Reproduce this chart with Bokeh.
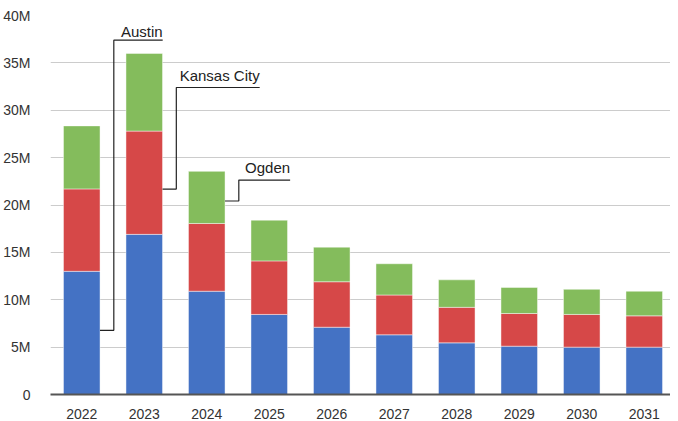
from bokeh.plotting import figure
from bokeh.models import ColumnDataSource, FixedTicker, Range1d
from bokeh.embed import file_html
from bokeh.resources import INLINE
from bokeh.core.properties import value

# ---- data (values in millions) ----
years = ["2022", "2023", "2024", "2025", "2026", "2027", "2028", "2029", "2030", "2031"]
austin = [13.0, 16.9, 10.9, 8.45, 7.1, 6.3, 5.45, 5.1, 5.0, 5.0]
kansas_city = [8.7, 10.9, 7.15, 5.65, 4.8, 4.2, 3.75, 3.45, 3.45, 3.3]
ogden = [6.65, 8.2, 5.5, 4.3, 3.65, 3.3, 2.9, 2.75, 2.65, 2.6]
series_names = ["Austin", "Kansas City", "Ogden"]
colors = ["#4472C4", "#D64848", "#84BC5C"]
y_ticks = [0, 5, 10, 15, 20, 25, 30, 35, 40]
y_tick_labels = ["0", "5M", "10M", "15M", "20M", "25M", "30M", "35M", "40M"]

# ---- callout annotations ----
callout_bar = [0, 1, 2]
callout_anchor = [6.77, 21.68, 20.42]
callout_level = [37.4, 32.4, 22.63]
callout_end = [1.295, 1.847, 1.334]
callout_text_y = [37.66, 33.05, 23.34]

FONT = "Liberation Sans"
FS = "14px"
BAR_W = 0.585

x_idx = list(range(len(years)))
src = ColumnDataSource(dict(x=x_idx, Austin=austin, **{"Kansas City": kansas_city}, Ogden=ogden))

p = figure(width=670, height=421, output_backend="svg", toolbar_location=None,
           x_range=Range1d(-0.5, 9.42), y_range=Range1d(0, 40),
           min_border_left=42, min_border_right=0, min_border_top=15, min_border_bottom=26)
p.outline_line_color = None

p.vbar_stack(series_names, x="x", width=BAR_W, color=colors, source=src,
             line_color="white", line_alpha=0.45, line_width=1)

# callouts
xs, ys = [], []
for b, a, lv, e in zip(callout_bar, callout_anchor, callout_level, callout_end):
    xs.append([b + BAR_W / 2, b + 0.513, b + 0.513, b + e])
    ys.append([a, a, lv, lv])
p.multi_line(xs=xs, ys=ys, line_color="#222222", line_width=1.2)
p.text(x=[b + e for b, e in zip(callout_bar, callout_end)], y=callout_text_y,
       text=series_names, text_align="right", text_baseline="alphabetic", y_offset=-6,
       text_font=value(FONT), text_font_size="15px", text_color="#222222")

# axes
p.yaxis.ticker = FixedTicker(ticks=y_ticks)
p.yaxis.major_label_overrides = {t: l for t, l in zip(y_ticks, y_tick_labels)}
p.yaxis.axis_line_color = None
p.yaxis.major_tick_line_color = None
p.yaxis.minor_tick_line_color = None
p.yaxis.major_label_standoff = 14
p.yaxis.major_label_text_font = FONT
p.yaxis.major_label_text_font_size = FS
p.yaxis.major_label_text_color = "#333333"

p.xaxis.ticker = FixedTicker(ticks=x_idx)
p.xaxis.major_label_overrides = {i: y for i, y in zip(x_idx, years)}
p.xaxis.axis_line_color = "#555555"
p.xaxis.axis_line_width = 2
p.xaxis.major_tick_line_color = None
p.xaxis.minor_tick_line_color = None
p.xaxis.major_label_standoff = 8
p.xaxis.major_label_text_font = FONT
p.xaxis.major_label_text_font_size = FS
p.xaxis.major_label_text_color = "#333333"

p.xgrid.grid_line_color = None
p.ygrid.grid_line_color = "#cccccc"
p.ygrid.grid_line_width = 1

open("out.html", "w").write(file_html(p, INLINE))
